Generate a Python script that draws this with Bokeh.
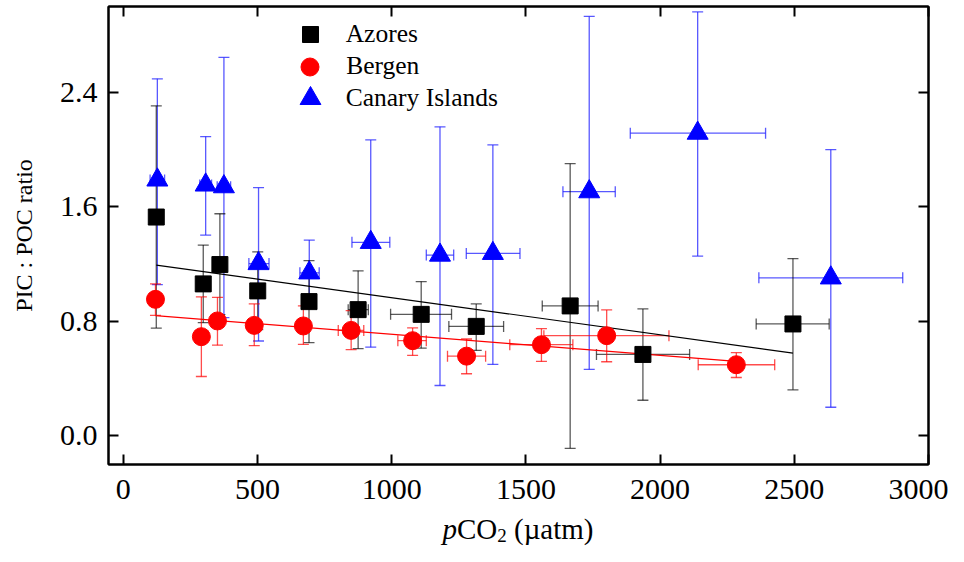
from bokeh.plotting import figure
from bokeh.models import (Whisker, ColumnDataSource, LinearAxis, Legend, LegendItem,
                          TeeHead, Range1d, FixedTicker)
from bokeh.layouts import column
from bokeh.core.properties import value
from bokeh.embed import file_html
from bokeh.resources import INLINE

FONT = "Liberation Serif"

# ---------------- data ----------------
x_ticks = [0, 500, 1000, 1500, 2000, 2500, 3000]
y_ticks = [0.0, 0.8, 1.6, 2.4]
y_tick_labels = ["0.0", "0.8", "1.6", "2.4"]

azores_x = [123, 298, 360, 501, 692, 875, 1110, 1315, 1665, 1936, 2495]
azores_y = [1.529, 1.062, 1.197, 1.013, 0.938, 0.882, 0.849, 0.765, 0.908, 0.569, 0.782]
azores_ylo = [0.753, 0.791, 0.847, 0.742, 0.651, 0.609, 0.613, 0.597, -0.087, 0.249, 0.322]
azores_yhi = [2.306, 1.333, 1.552, 1.286, 1.225, 1.153, 1.078, 0.922, 1.902, 0.887, 1.239]
azores_xlo = [123, 298, 360, 501, 692, 838, 996, 1213, 1561, 1763, 2358]
azores_xhi = [123, 298, 360, 501, 692, 913, 1223, 1417, 1769, 2110, 2630]

bergen_x = [120, 291, 351, 488, 671, 849, 1078, 1279, 1558, 1801, 2284]
bergen_y = [0.954, 0.693, 0.803, 0.772, 0.768, 0.737, 0.665, 0.557, 0.637, 0.700, 0.497]
bergen_ylo = [0.842, 0.415, 0.634, 0.630, 0.639, 0.602, 0.562, 0.434, 0.520, 0.518, 0.408]
bergen_yhi = [1.062, 0.971, 0.968, 0.922, 0.908, 0.875, 0.754, 0.677, 0.749, 0.880, 0.581]
bergen_xlo = [120, 291, 351, 488, 671, 801, 1023, 1208, 1440, 1567, 2142]
bergen_xhi = [120, 291, 351, 488, 671, 896, 1129, 1350, 1675, 2033, 2427]

canary_x = [127, 307, 375, 504, 693, 922, 1180, 1377, 1736, 2140, 2636]
canary_y = [1.788, 1.753, 1.741, 1.204, 1.139, 1.352, 1.263, 1.275, 1.706, 2.115, 1.104]
canary_ylo = [1.057, 1.403, 0.826, 0.663, 0.936, 0.620, 0.352, 0.499, 0.464, 1.256, 0.200]
canary_yhi = [2.495, 2.091, 2.644, 1.734, 1.368, 2.068, 2.159, 2.033, 2.931, 2.962, 2.000]
canary_xlo = [100, 285, 350, 468, 658, 852, 1129, 1278, 1638, 1889, 2368]
canary_xhi = [154, 329, 400, 543, 730, 993, 1231, 1478, 1833, 2393, 2904]

azores_fit_x = [123, 2495]
azores_fit_y = [1.193, 0.578]
bergen_fit_x = [120, 2284]
bergen_fit_y = [0.840, 0.520]

series_labels = ["Azores", "Bergen", "Canary Islands"]
x_title_parts = ["p", "CO", "2", "(µatm)"]

# ---------------- main figure ----------------
FRAME_W, FRAME_H = 820, 458
LEFT, RIGHT, TOP, BOTTOM = 108, 20, 6, 44
p = figure(output_backend="svg", toolbar_location=None,
           x_range=Range1d(-55, 3000), y_range=Range1d(-0.2, 3.0),
           frame_width=FRAME_W, frame_height=FRAME_H,
           min_border_left=LEFT, min_border_right=RIGHT, min_border_top=TOP,
           min_border_bottom=BOTTOM)
p.grid.visible = False
p.outline_line_color = "black"
p.outline_line_width = 2
p.background_fill_color = "white"
p.border_fill_color = "white"

xt = FixedTicker(ticks=x_ticks)
yt = FixedTicker(ticks=y_ticks)


def style_axis(ax):
    ax.axis_line_width = 2
    ax.axis_line_color = "black"
    ax.major_tick_line_width = 2
    ax.major_tick_line_color = "black"
    ax.major_tick_in = 10
    ax.major_tick_out = 0
    ax.minor_tick_in = 0
    ax.minor_tick_out = 0
    ax.major_label_text_font = FONT
    ax.major_label_text_color = "black"
    ax.major_label_text_font_size = "30px"


xa = p.xaxis[0]
xa.ticker = xt
style_axis(xa)
xa.major_label_standoff = 15

ya = p.yaxis[0]
ya.ticker = yt
style_axis(ya)
ya.major_label_overrides = {t: s for t, s in zip(y_ticks, y_tick_labels)}
ya.major_label_standoff = 11
ya.axis_label = "PIC : POC ratio"
ya.axis_label_text_font = FONT
ya.axis_label_text_font_size = "24px"
ya.axis_label_text_font_style = "normal"
ya.axis_label_text_color = "black"
ya.axis_label_standoff = 20

top_ax = LinearAxis(ticker=xt)
style_axis(top_ax)
top_ax.major_label_overrides = {t: "" for t in x_ticks}
top_ax.major_label_standoff = 0
p.add_layout(top_ax, "above")
right_ax = LinearAxis(ticker=yt)
style_axis(right_ax)
right_ax.major_label_overrides = {t: "" for t in y_ticks}
right_ax.major_label_standoff = 0
p.add_layout(right_ax, "right")


def add_errors(xs, ys, ylo, yhi, xlo, xhi, color, alpha):
    src = ColumnDataSource(dict(x=xs, y=ys, lo=ylo, hi=yhi))
    p.add_layout(Whisker(source=src, base="x", lower="lo", upper="hi", dimension="height",
                         line_color=color, line_alpha=alpha, line_width=1.3, level="underlay",
                         upper_head=TeeHead(size=11, line_color=color, line_alpha=alpha, line_width=1.3),
                         lower_head=TeeHead(size=11, line_color=color, line_alpha=alpha, line_width=1.3)))
    keep = [i for i in range(len(xs)) if xhi[i] > xlo[i]]
    srcx = ColumnDataSource(dict(y=[ys[i] for i in keep], lo=[xlo[i] for i in keep],
                                 hi=[xhi[i] for i in keep]))
    p.add_layout(Whisker(source=srcx, base="y", lower="lo", upper="hi", dimension="width",
                         line_color=color, line_alpha=alpha, line_width=1.3, level="underlay",
                         upper_head=TeeHead(size=11, line_color=color, line_alpha=alpha, line_width=1.3),
                         lower_head=TeeHead(size=11, line_color=color, line_alpha=alpha, line_width=1.3)))


add_errors(canary_x, canary_y, canary_ylo, canary_yhi, canary_xlo, canary_xhi, "#2020ff", 0.75)
add_errors(azores_x, azores_y, azores_ylo, azores_yhi, azores_xlo, azores_xhi, "black", 0.65)
add_errors(bergen_x, bergen_y, bergen_ylo, bergen_yhi, bergen_xlo, bergen_xhi, "#ff0000", 0.7)

p.line(azores_fit_x, azores_fit_y, line_color="black", line_width=1.2)
p.line(bergen_fit_x, bergen_fit_y, line_color="#ff0000", line_width=1.2)

r_az = p.scatter(azores_x, azores_y, marker="square", size=16, fill_color="black", line_color="black")
r_be = p.scatter(bergen_x, bergen_y, marker="circle", size=18, fill_color="#ff0000", line_color="#ff0000")
r_ca = p.scatter(canary_x, canary_y, marker="triangle", size=21, fill_color="#0000ff", line_color="#0000ff")

# one legend per row, so each key keeps its own marker size (legend marker = 0.4 * box)
key_center_x = 201.7        # px from frame left
text_left = 237.7           # px from frame left
row_centers = [28, 60, 92]  # px from frame top
boxes = [40, 45, 52]
for lab, rend, cy, box in zip(series_labels, [r_az, r_be, r_ca], row_centers, boxes):
    lg = Legend(items=[LegendItem(label=lab, renderers=[rend])],
                location=(key_center_x - box / 2, FRAME_H - cy - box / 2),
                glyph_width=box, glyph_height=box, label_height=box,
                padding=0, margin=0, spacing=0,
                label_standoff=int(round(text_left - key_center_x - box / 2)),
                label_text_font=FONT, label_text_font_size="25.5px", label_text_color="black",
                label_text_baseline="middle",
                border_line_alpha=0, background_fill_alpha=0)
    p.add_layout(lg)

# ---------------- x-axis title strip (SVG text: italic p, CO, subscript 2, (µatm)) ----------------
# The column aligns this strip's frame with the main frame, so x is in page pixels (108..928).
STRIP_H = 46
t = figure(output_backend="svg", toolbar_location=None, title=None,
           frame_width=FRAME_W, frame_height=STRIP_H,
           x_axis_location=None, y_axis_location=None,
           x_range=Range1d(LEFT, LEFT + FRAME_W), y_range=Range1d(0, STRIP_H),
           min_border=0, min_border_left=LEFT, min_border_right=RIGHT,
           min_border_top=0, min_border_bottom=0)
t.grid.visible = False
t.outline_line_color = None
t.border_fill_color = "white"
t.background_fill_color = "white"

base_y = STRIP_H - 20     # baseline 20 px below the strip top
sub_y = STRIP_H - 27
t.text(x=[442], y=[base_y], text=[x_title_parts[0]], text_font=value(FONT), text_font_size="29px",
       text_font_style="italic", text_color="black", text_baseline="alphabetic", text_align="left")
t.text(x=[456.5], y=[base_y], text=[x_title_parts[1]], text_font=value(FONT), text_font_size="29px",
       text_color="black", text_baseline="alphabetic", text_align="left")
t.text(x=[496.8], y=[sub_y], text=[x_title_parts[2]], text_font=value(FONT), text_font_size="19px",
       text_color="black", text_baseline="alphabetic", text_align="left")
t.text(x=[513.5], y=[base_y], text=[x_title_parts[3]], text_font=value(FONT), text_font_size="29px",
       text_color="black", text_baseline="alphabetic", text_align="left")

layout = column(p, t, spacing=0)
open("out.html", "w").write(file_html(layout, INLINE))
